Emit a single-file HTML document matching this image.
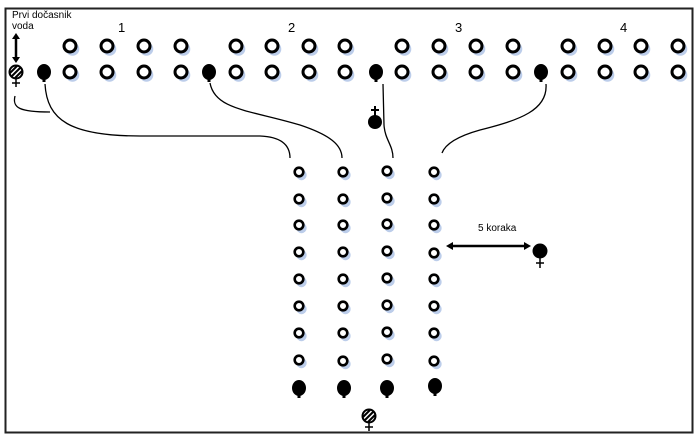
<!DOCTYPE html>
<html><head><style>
html,body{margin:0;padding:0;background:#fff;}
svg{display:block;}
text{font-family:"Liberation Sans",sans-serif;fill:#000;}
</style></head><body>
<svg width="700" height="439" viewBox="0 0 700 439" xmlns="http://www.w3.org/2000/svg">
<defs>
<g id="o"><circle cx="2.5" cy="3" r="6.8" fill="#bccdea"/><circle cx="0" cy="0" r="6" fill="#fff" stroke="#000" stroke-width="3"/></g>
<g id="s"><circle cx="2.5" cy="3" r="5.2" fill="#bccdea"/><circle cx="0" cy="0" r="4.3" fill="#fff" stroke="#000" stroke-width="2.6"/></g>
<g id="f"><ellipse cx="0" cy="0" rx="7" ry="8" fill="#000"/><rect x="-1.5" y="5" width="3" height="5" fill="#000"/></g>
<g id="h"><circle cx="0" cy="0" r="6.5" fill="#fff" stroke="#000" stroke-width="2"/><line x1="-4" y1="4" x2="4" y2="-4" stroke="#000" stroke-width="2"/><line x1="-6" y1="1" x2="1" y2="-6" stroke="#000" stroke-width="2"/><line x1="-1" y1="6" x2="6" y2="-1" stroke="#000" stroke-width="2"/><line x1="0" y1="7" x2="0" y2="15" stroke="#000" stroke-width="1.5"/><line x1="-4" y1="11" x2="4" y2="11" stroke="#000" stroke-width="1.5"/></g>
</defs>
<rect x="5.5" y="8.5" width="687" height="424" fill="none" stroke="#222" stroke-width="2"/>
<text x="12" y="18" font-size="10">Prvi dočasnik</text>
<text x="12" y="29" font-size="10">voda</text>
<text x="118" y="32" font-size="13">1</text>
<text x="288" y="32" font-size="13">2</text>
<text x="455" y="32" font-size="13">3</text>
<text x="620" y="32" font-size="13">4</text>
<line x1="16" y1="38" x2="16" y2="58" stroke="#000" stroke-width="2.5"/>
<polygon points="12,39 20,39 16,33" fill="#000"/>
<polygon points="12,57 20,57 16,63" fill="#000"/>
<use href="#h" x="16" y="72"/>
<g>
<use href="#o" x="70" y="46"/><use href="#o" x="107" y="46"/><use href="#o" x="144" y="46"/><use href="#o" x="181" y="46"/>
<use href="#o" x="236" y="46"/><use href="#o" x="272" y="46"/><use href="#o" x="309" y="46"/><use href="#o" x="345" y="46"/>
<use href="#o" x="402" y="46"/><use href="#o" x="439" y="46"/><use href="#o" x="476" y="46"/><use href="#o" x="513" y="46"/>
<use href="#o" x="568" y="46"/><use href="#o" x="605" y="46"/><use href="#o" x="641" y="46"/><use href="#o" x="678" y="46"/>
<use href="#o" x="70" y="72"/><use href="#o" x="107" y="72"/><use href="#o" x="144" y="72"/><use href="#o" x="181" y="72"/>
<use href="#o" x="236" y="72"/><use href="#o" x="272" y="72"/><use href="#o" x="309" y="72"/><use href="#o" x="345" y="72"/>
<use href="#o" x="402" y="72"/><use href="#o" x="439" y="72"/><use href="#o" x="476" y="72"/><use href="#o" x="513" y="72"/>
<use href="#o" x="568" y="72"/><use href="#o" x="605" y="72"/><use href="#o" x="641" y="72"/><use href="#o" x="678" y="72"/>
</g>
<use href="#f" x="44" y="72"/><use href="#f" x="209" y="72"/><use href="#f" x="376" y="72"/><use href="#f" x="541" y="72"/>
<g fill="none" stroke="#000" stroke-width="1.3">
<path d="M15,96 C12,108 20,112 50,112"/>
<path d="M45,84 C47,120 70,136 140,136 L260,136 C285,137 290,148 290,158"/>
<path d="M210,83 C215,110 250,110 300,125 C330,135 342,145 342,158"/>
<path d="M383,84 L384,125 C385,140 393,145 393,158"/>
<path d="M546,84 C548,110 520,120 480,130 C455,137 445,145 442,153"/>
</g>
<circle cx="375" cy="122" r="7" fill="#000"/>
<line x1="375" y1="106" x2="375" y2="116" stroke="#000" stroke-width="2"/>
<line x1="371" y1="110" x2="379" y2="110" stroke="#000" stroke-width="2"/>
<g>
<use href="#s" x="299" y="172"/><use href="#s" x="343" y="172"/><use href="#s" x="387" y="171"/><use href="#s" x="434" y="172"/>
<use href="#s" x="299" y="199"/><use href="#s" x="343" y="199"/><use href="#s" x="387" y="198"/><use href="#s" x="434" y="199"/>
<use href="#s" x="299" y="225"/><use href="#s" x="343" y="225"/><use href="#s" x="387" y="224"/><use href="#s" x="434" y="225"/>
<use href="#s" x="299" y="252"/><use href="#s" x="343" y="252"/><use href="#s" x="387" y="251"/><use href="#s" x="434" y="253"/>
<use href="#s" x="299" y="279"/><use href="#s" x="343" y="279"/><use href="#s" x="387" y="278"/><use href="#s" x="434" y="279"/>
<use href="#s" x="299" y="306"/><use href="#s" x="343" y="306"/><use href="#s" x="387" y="305"/><use href="#s" x="434" y="306"/>
<use href="#s" x="299" y="333"/><use href="#s" x="343" y="333"/><use href="#s" x="387" y="332"/><use href="#s" x="434" y="333"/>
<use href="#s" x="299" y="360"/><use href="#s" x="343" y="361"/><use href="#s" x="387" y="359"/><use href="#s" x="434" y="361"/>
</g>
<use href="#f" x="299" y="388"/><use href="#f" x="344" y="388"/><use href="#f" x="387" y="388"/><use href="#f" x="435" y="386"/>
<use href="#h" x="369" y="416"/>
<text x="478" y="231" font-size="10">5 koraka</text>
<line x1="450" y1="246" x2="526" y2="246" stroke="#000" stroke-width="2.5"/>
<polygon points="446,246 453,242 453,250" fill="#000"/>
<polygon points="531,246 524,242 524,250" fill="#000"/>
<circle cx="540" cy="251" r="7.5" fill="#000"/>
<line x1="540" y1="257" x2="540" y2="268" stroke="#000" stroke-width="1.5"/>
<line x1="536" y1="263" x2="544" y2="263" stroke="#000" stroke-width="1.5"/>
</svg>
</body></html>
